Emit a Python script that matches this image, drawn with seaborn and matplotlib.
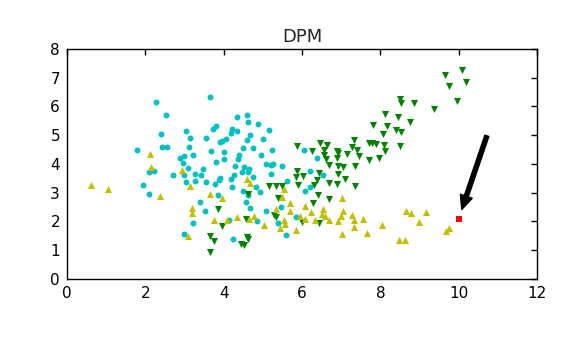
import pandas as pd
import matplotlib
matplotlib.use("Agg")
import matplotlib.pyplot as plt
import seaborn as sns

# ==============================
# Data
# ==============================

cyan_x = [2.26, 3.66, 2.54, 2.39, 2.42, 2.55, 1.80, 3.04, 3.14, 3.12, 3.22, 3.00, 2.88, 2.97,
          3.08, 2.99, 3.03, 3.26, 3.28, 3.42, 3.48, 3.54, 3.55, 3.68, 3.72, 3.80, 3.80, 3.91,
          3.97, 4.06, 4.02, 4.01, 3.91, 3.89, 3.79, 3.86, 3.39, 3.52, 3.22, 2.99, 2.09, 1.95,
          2.10, 2.22, 2.70, 4.22, 4.20, 4.33, 4.34, 4.20, 4.27, 4.22, 4.28, 4.37, 4.14, 4.24,
          4.59, 4.63, 4.87, 5.16, 4.67, 4.59, 5.01, 4.50, 4.75, 5.24, 4.40, 4.95, 4.51, 4.65,
          4.47, 4.61, 5.07, 5.21, 5.27, 5.50, 5.22, 4.74, 4.82, 4.94, 4.50, 4.63, 4.57, 4.67,
          5.07, 4.86, 5.62, 5.47, 5.38, 5.58, 5.84, 6.04, 6.20, 6.39, 6.54, 6.20, 6.07]
cyan_y = [6.16, 6.34, 5.69, 5.03, 4.59, 4.60, 4.50, 5.15, 4.89, 4.60, 4.32, 4.28, 4.20, 4.02,
          3.85, 3.62, 3.38, 3.42, 3.66, 3.63, 3.81, 3.36, 4.89, 4.46, 5.22, 5.33, 4.08, 4.75,
          4.81, 4.87, 4.41, 4.17, 3.50, 3.43, 3.29, 2.91, 2.68, 2.38, 1.94, 1.57, 2.95, 3.26,
          3.71, 3.75, 3.63, 5.21, 5.07, 5.62, 5.15, 3.49, 3.62, 3.21, 3.94, 4.18, 2.06, 1.40,
          5.72, 5.46, 5.38, 5.17, 5.00, 4.82, 4.88, 4.56, 4.56, 4.48, 4.31, 4.32, 3.88, 3.84,
          3.71, 3.72, 3.99, 3.95, 4.00, 3.93, 3.64, 3.55, 3.19, 3.04, 3.07, 2.91, 2.67, 2.48,
          2.38, 2.01, 3.42, 2.52, 1.96, 1.53, 2.16, 4.48, 3.77, 4.22, 3.61, 3.21, 3.07]

green_x = [3.86, 3.97, 3.66, 3.75, 3.66, 4.61, 4.58, 4.59, 4.63, 4.44, 4.52, 5.39, 5.28, 5.34,
           5.16, 5.34, 5.50, 5.87, 5.87, 5.85, 6.03, 5.89, 5.99, 6.25, 6.43, 6.39, 6.31, 6.27,
           6.41, 6.44, 6.47, 6.63, 6.55, 6.56, 6.61, 6.70, 6.68, 6.68, 6.89, 6.91, 6.89, 6.93,
           7.04, 6.93, 7.10, 6.89, 7.16, 7.27, 7.34, 7.41, 7.46, 7.35, 7.35, 7.72, 7.79, 7.89,
           7.72, 7.97, 8.10, 8.13, 7.81, 8.13, 8.16, 8.08, 9.64, 10.08, 9.76, 10.19, 9.95, 9.38,
           8.86, 8.49, 8.54, 8.77, 8.45, 8.41, 8.53, 8.49]
green_y = [2.43, 1.84, 1.50, 1.33, 0.95, 2.95, 2.08, 1.47, 1.39, 1.22, 1.19, 2.83, 2.24, 2.15,
           3.23, 3.23, 3.23, 4.61, 3.76, 3.54, 3.58, 3.28, 1.99, 4.46, 3.70, 3.44, 3.27, 2.66,
           2.92, 1.94, 4.72, 4.66, 4.49, 4.31, 4.18, 3.98, 3.35, 2.78, 4.46, 4.37, 4.22, 3.94,
           3.88, 3.65, 3.47, 3.29, 4.36, 4.60, 4.83, 4.47, 4.28, 3.93, 3.25, 4.74, 4.74, 4.71,
           4.14, 4.21, 4.66, 4.45, 5.37, 5.75, 5.33, 5.03, 7.11, 7.26, 6.72, 6.84, 6.18, 5.91,
           6.11, 6.25, 6.11, 5.45, 5.65, 5.18, 5.12, 4.61]

yellow_x = [0.61, 1.05, 2.12, 2.15, 2.37, 2.93, 3.14, 3.18, 3.18, 3.08, 3.65, 3.95, 3.76, 4.08,
            4.35, 4.60, 4.67, 4.65, 4.77, 5.02, 5.44, 5.53, 5.57, 5.34, 5.50, 5.55, 5.69, 5.69,
            5.85, 5.95, 6.08, 6.08, 6.24, 6.34, 6.51, 6.54, 6.58, 6.69, 6.92, 7.00, 7.05, 7.01,
            7.01, 7.28, 7.34, 7.34, 7.57, 7.66, 8.03, 8.65, 8.78, 9.17, 8.99, 9.67, 9.75, 8.47,
            8.64]
yellow_y = [3.27, 3.13, 4.34, 3.90, 2.89, 3.80, 3.25, 2.48, 2.31, 1.51, 2.97, 2.82, 2.06, 2.05,
            2.17, 3.48, 3.33, 2.08, 2.19, 1.87, 1.79, 2.06, 1.90, 2.42, 2.86, 3.12, 2.66, 2.38,
            1.69, 2.19, 2.09, 2.55, 2.34, 2.05, 2.25, 2.42, 2.18, 2.06, 2.03, 2.20, 2.37, 2.82,
            1.58, 2.21, 2.05, 1.82, 2.09, 1.60, 1.87, 2.35, 2.31, 2.34, 1.97, 1.68, 1.77, 1.37,
            1.36]

outlier = (10.0, 2.1)
arrow_from = (10.8, 5.3)

x_ticks = [0, 2, 4, 6, 8, 10, 12]
y_ticks = [0, 1, 2, 3, 4, 5, 6, 7, 8]

# ==============================
# Plot
# ==============================

sns.set_style("white")
plt.rcParams["font.family"] = ["DejaVu Sans"]

fig = plt.figure(figsize=(5.86, 3.44), dpi=100)
ax = fig.add_axes([0.1143, 0.189, 0.8021, 0.6686])

sns.scatterplot(x=cyan_x, y=cyan_y, marker="o", color="c", s=18, linewidth=0, ax=ax)
sns.scatterplot(x=green_x, y=green_y, marker="v", color="g", s=26, linewidth=0, ax=ax)
sns.scatterplot(x=yellow_x, y=yellow_y, marker="^", color="y", s=26, linewidth=0, ax=ax)
sns.scatterplot(x=[outlier[0]], y=[outlier[1]], marker="s", color="r", s=22, linewidth=0, ax=ax)

ax.annotate("", xy=outlier, xytext=arrow_from,
            arrowprops=dict(facecolor="black", edgecolor="black", shrink=0.1,
                            width=3, headwidth=9, headlength=10))

ax.set_xlim(0, 12)
ax.set_ylim(0, 8)
ax.set_xticks(x_ticks)
ax.set_yticks(y_ticks)
ax.tick_params(direction="in", length=4, width=1, labelsize=11, colors="black",
               top=True, right=True, pad=5)
for side in ax.spines.values():
    side.set_color("black")
    side.set_linewidth(1)

ax.set_title("DPM", fontsize=13, pad=5)

plt.savefig("out.png", dpi=100)
